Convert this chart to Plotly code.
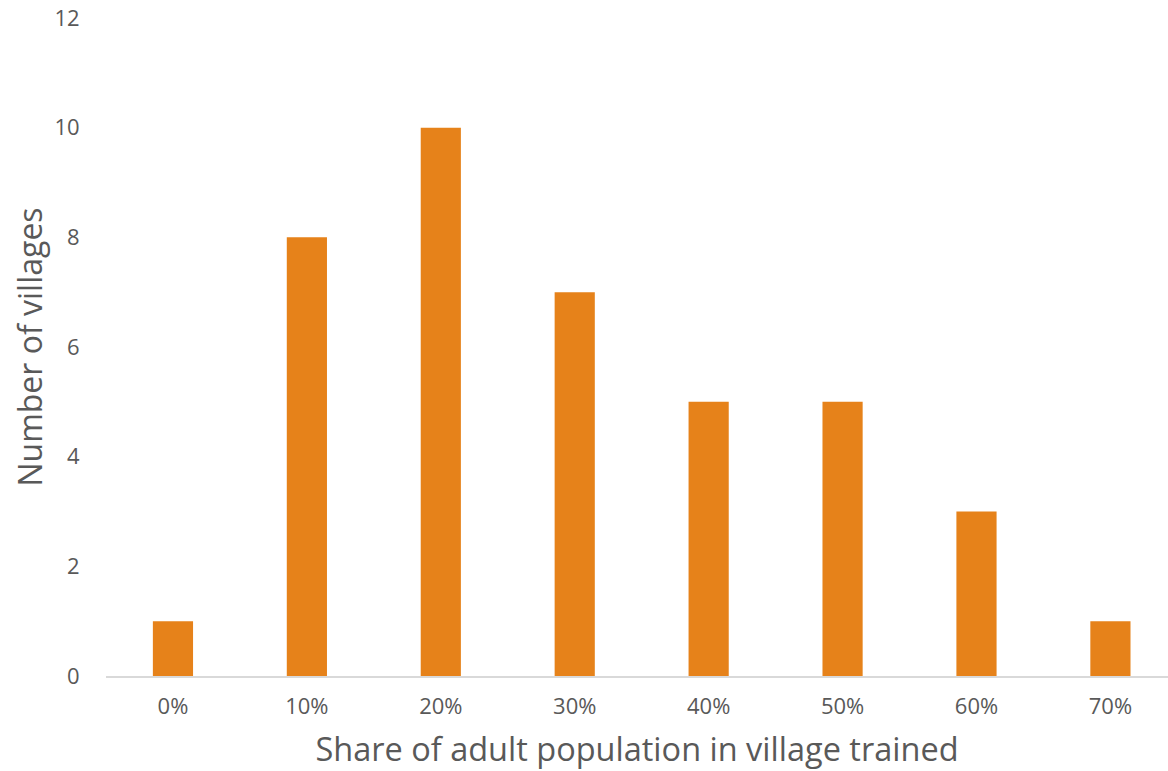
import plotly.graph_objects as go

# Histogram of training coverage across villages
share_labels = ["0%", "10%", "20%", "30%", "40%", "50%", "60%", "70%"]
village_counts = [1, 8, 10, 7, 5, 5, 3, 1]

y_ticks = [0, 2, 4, 6, 8, 10, 12]

bar_color = "#E6821A"
text_color = "#595959"
font_family = "Open Sans, Noto Sans, sans-serif"

fig = go.Figure(
    go.Bar(
        x=list(range(len(share_labels))),
        y=village_counts,
        width=0.3,
        marker=dict(color=bar_color, line=dict(width=0)),
    )
)

fig.update_layout(
    width=1168,
    height=771,
    margin=dict(l=106, r=0, t=18, b=95),
    plot_bgcolor="white",
    paper_bgcolor="white",
    showlegend=False,
    font=dict(family=font_family, color=text_color),
)

fig.update_xaxes(
    range=[-0.5, 7.43],
    tickmode="array",
    tickvals=list(range(len(share_labels))),
    ticktext=share_labels,
    tickfont=dict(size=22, color=text_color),
    showgrid=False,
    zeroline=False,
    showline=True,
    linecolor="#D9D9D9",
    linewidth=2,
    ticks="outside",
    ticklen=10,
    tickcolor="rgba(0,0,0,0)",
    title=dict(
        text="Share of adult population in village trained",
        font=dict(size=32.5, color=text_color),
        standoff=20,
    ),
)

fig.update_yaxes(
    range=[0, 12],
    tickmode="array",
    tickvals=y_ticks,
    tickfont=dict(size=22, color=text_color),
    showgrid=False,
    zeroline=False,
    showline=False,
    ticks="outside",
    ticklen=21,
    tickcolor="rgba(0,0,0,0)",
    title=dict(
        text="Number of villages",
        font=dict(size=32, color=text_color),
        standoff=2,
    ),
)

fig.write_html("out.html")
